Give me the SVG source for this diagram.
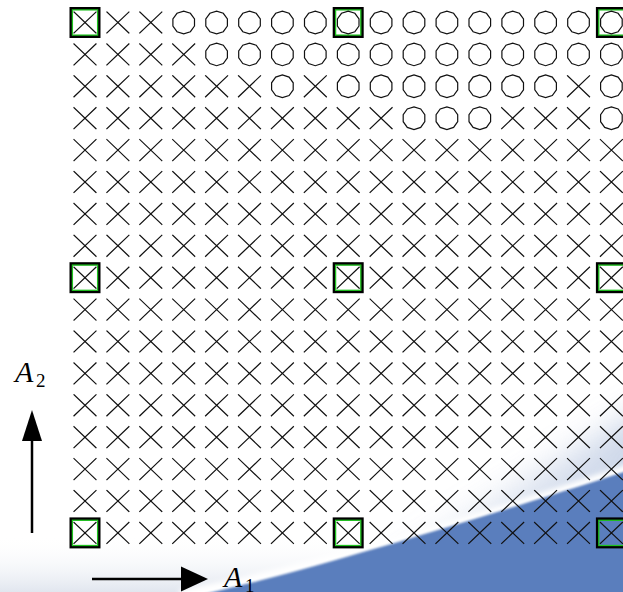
<svg xmlns="http://www.w3.org/2000/svg" xmlns:xlink="http://www.w3.org/1999/xlink" width="623" height="592" viewBox="0 0 623 592">
<style>
.xm{fill:none;stroke:#111;stroke-width:1.2;stroke-linecap:square}
.om{fill:none;stroke:#111;stroke-width:1.2}
.sqo{fill:none;stroke:#000;stroke-width:3}
.sqi{fill:none;stroke:#1fc21f;stroke-width:1.3}
.lbl{font-family:"Liberation Serif","Times New Roman",serif;font-style:italic;fill:#000}
.sub{font-family:"Liberation Serif","Times New Roman",serif;fill:#000}
.ax{stroke:#000;stroke-width:2.5;fill:none}
</style>
<defs>
<path id="X" class="xm" d="M-11-10.5L11 10.5M-11 10.5L11-10.5"/>
<polygon id="O" class="om" points="10.8,3.5 6.7,9.2 0,11.3 -6.7,9.2 -10.8,3.5 -10.8,-3.5 -6.7,-9.2 0,-11.3 6.7,-9.2 10.8,-3.5"/>
<g id="S"><rect class="sqo" x="-14" y="-14" width="28" height="28"/><rect class="sqi" x="-12.6" y="-12.6" width="25.2" height="25.2"/></g>
<linearGradient id="gb" x1="0" y1="0" x2="0" y2="1"><stop offset="0" stop-color="#fff" stop-opacity="0"/><stop offset="1" stop-color="#e1e6ef"/></linearGradient>
<linearGradient id="gh" x1="0" y1="1" x2="0.3" y2="0"><stop offset="0" stop-color="#b4c3de" stop-opacity="0.2"/><stop offset="1" stop-color="#b4c3de"/></linearGradient>
<filter id="b18" x="-50%" y="-50%" width="200%" height="200%"><feGaussianBlur stdDeviation="16"/></filter>
<filter id="b4" x="-20%" y="-20%" width="140%" height="140%"><feGaussianBlur stdDeviation="2.5"/></filter>
<filter id="b1" x="-10%" y="-10%" width="120%" height="120%"><feGaussianBlur stdDeviation="1.2"/></filter>
</defs>
<rect width="623" height="592" fill="#fff"/>
<g id="background">
<rect x="0" y="535" width="623" height="57" fill="url(#gb)"/>
<path d="M330 600 L660 400 L660 600 Z" fill="url(#gh)" opacity="0.7" filter="url(#b18)"/>
<path d="M180 596 C280 578 420 540 630 470" stroke="#fff" stroke-width="12" fill="none" filter="url(#b4)"/>
<path d="M205 594 C285 576 425 536 630 470 L630 600 L205 600 Z" fill="#5a7ebd" filter="url(#b1)"/>
</g>
<g id="nodes">
<g id="n0_0"><use href="#S" x="85" y="22.5"/><use href="#X" x="85" y="22.5"/></g>
<g id="n0_1"><use href="#X" x="117.9" y="22.5"/></g>
<g id="n0_2"><use href="#X" x="150.8" y="22.5"/></g>
<g id="n0_3"><use href="#O" x="183.7" y="22.5"/></g>
<g id="n0_4"><use href="#O" x="216.6" y="22.5"/></g>
<g id="n0_5"><use href="#O" x="249.5" y="22.5"/></g>
<g id="n0_6"><use href="#O" x="282.4" y="22.5"/></g>
<g id="n0_7"><use href="#O" x="315.3" y="22.5"/></g>
<g id="n0_8"><use href="#S" x="348.2" y="22.5"/><use href="#O" x="348.2" y="22.5"/></g>
<g id="n0_9"><use href="#O" x="381.1" y="22.5"/></g>
<g id="n0_10"><use href="#O" x="414" y="22.5"/></g>
<g id="n0_11"><use href="#O" x="446.9" y="22.5"/></g>
<g id="n0_12"><use href="#O" x="479.8" y="22.5"/></g>
<g id="n0_13"><use href="#O" x="512.7" y="22.5"/></g>
<g id="n0_14"><use href="#O" x="545.6" y="22.5"/></g>
<g id="n0_15"><use href="#O" x="578.5" y="22.5"/></g>
<g id="n0_16"><use href="#S" x="611.4" y="22.5"/><use href="#O" x="611.4" y="22.5"/></g>

<g id="n1_0"><use href="#X" x="85" y="54.4"/></g>
<g id="n1_1"><use href="#X" x="117.9" y="54.4"/></g>
<g id="n1_2"><use href="#X" x="150.8" y="54.4"/></g>
<g id="n1_3"><use href="#X" x="183.7" y="54.4"/></g>
<g id="n1_4"><use href="#O" x="216.6" y="54.4"/></g>
<g id="n1_5"><use href="#O" x="249.5" y="54.4"/></g>
<g id="n1_6"><use href="#O" x="282.4" y="54.4"/></g>
<g id="n1_7"><use href="#O" x="315.3" y="54.4"/></g>
<g id="n1_8"><use href="#O" x="348.2" y="54.4"/></g>
<g id="n1_9"><use href="#O" x="381.1" y="54.4"/></g>
<g id="n1_10"><use href="#O" x="414" y="54.4"/></g>
<g id="n1_11"><use href="#O" x="446.9" y="54.4"/></g>
<g id="n1_12"><use href="#O" x="479.8" y="54.4"/></g>
<g id="n1_13"><use href="#O" x="512.7" y="54.4"/></g>
<g id="n1_14"><use href="#O" x="545.6" y="54.4"/></g>
<g id="n1_15"><use href="#O" x="578.5" y="54.4"/></g>
<g id="n1_16"><use href="#O" x="611.4" y="54.4"/></g>

<g id="n2_0"><use href="#X" x="85" y="86.3"/></g>
<g id="n2_1"><use href="#X" x="117.9" y="86.3"/></g>
<g id="n2_2"><use href="#X" x="150.8" y="86.3"/></g>
<g id="n2_3"><use href="#X" x="183.7" y="86.3"/></g>
<g id="n2_4"><use href="#X" x="216.6" y="86.3"/></g>
<g id="n2_5"><use href="#X" x="249.5" y="86.3"/></g>
<g id="n2_6"><use href="#O" x="282.4" y="86.3"/></g>
<g id="n2_7"><use href="#X" x="315.3" y="86.3"/></g>
<g id="n2_8"><use href="#O" x="348.2" y="86.3"/></g>
<g id="n2_9"><use href="#O" x="381.1" y="86.3"/></g>
<g id="n2_10"><use href="#O" x="414" y="86.3"/></g>
<g id="n2_11"><use href="#O" x="446.9" y="86.3"/></g>
<g id="n2_12"><use href="#O" x="479.8" y="86.3"/></g>
<g id="n2_13"><use href="#O" x="512.7" y="86.3"/></g>
<g id="n2_14"><use href="#O" x="545.6" y="86.3"/></g>
<g id="n2_15"><use href="#X" x="578.5" y="86.3"/></g>
<g id="n2_16"><use href="#O" x="611.4" y="86.3"/></g>

<g id="n3_0"><use href="#X" x="85" y="118.2"/></g>
<g id="n3_1"><use href="#X" x="117.9" y="118.2"/></g>
<g id="n3_2"><use href="#X" x="150.8" y="118.2"/></g>
<g id="n3_3"><use href="#X" x="183.7" y="118.2"/></g>
<g id="n3_4"><use href="#X" x="216.6" y="118.2"/></g>
<g id="n3_5"><use href="#X" x="249.5" y="118.2"/></g>
<g id="n3_6"><use href="#X" x="282.4" y="118.2"/></g>
<g id="n3_7"><use href="#X" x="315.3" y="118.2"/></g>
<g id="n3_8"><use href="#X" x="348.2" y="118.2"/></g>
<g id="n3_9"><use href="#X" x="381.1" y="118.2"/></g>
<g id="n3_10"><use href="#O" x="414" y="118.2"/></g>
<g id="n3_11"><use href="#O" x="446.9" y="118.2"/></g>
<g id="n3_12"><use href="#O" x="479.8" y="118.2"/></g>
<g id="n3_13"><use href="#X" x="512.7" y="118.2"/></g>
<g id="n3_14"><use href="#X" x="545.6" y="118.2"/></g>
<g id="n3_15"><use href="#X" x="578.5" y="118.2"/></g>
<g id="n3_16"><use href="#O" x="611.4" y="118.2"/></g>

<g id="n4"><use href="#X" x="85" y="150.1"/><use href="#X" x="117.9" y="150.1"/><use href="#X" x="150.8" y="150.1"/><use href="#X" x="183.7" y="150.1"/><use href="#X" x="216.6" y="150.1"/><use href="#X" x="249.5" y="150.1"/><use href="#X" x="282.4" y="150.1"/><use href="#X" x="315.3" y="150.1"/><use href="#X" x="348.2" y="150.1"/><use href="#X" x="381.1" y="150.1"/><use href="#X" x="414" y="150.1"/><use href="#X" x="446.9" y="150.1"/><use href="#X" x="479.8" y="150.1"/><use href="#X" x="512.7" y="150.1"/><use href="#X" x="545.6" y="150.1"/><use href="#X" x="578.5" y="150.1"/><use href="#X" x="611.4" y="150.1"/></g>
<g id="n5"><use href="#X" x="85" y="182"/><use href="#X" x="117.9" y="182"/><use href="#X" x="150.8" y="182"/><use href="#X" x="183.7" y="182"/><use href="#X" x="216.6" y="182"/><use href="#X" x="249.5" y="182"/><use href="#X" x="282.4" y="182"/><use href="#X" x="315.3" y="182"/><use href="#X" x="348.2" y="182"/><use href="#X" x="381.1" y="182"/><use href="#X" x="414" y="182"/><use href="#X" x="446.9" y="182"/><use href="#X" x="479.8" y="182"/><use href="#X" x="512.7" y="182"/><use href="#X" x="545.6" y="182"/><use href="#X" x="578.5" y="182"/><use href="#X" x="611.4" y="182"/></g>
<g id="n6"><use href="#X" x="85" y="213.9"/><use href="#X" x="117.9" y="213.9"/><use href="#X" x="150.8" y="213.9"/><use href="#X" x="183.7" y="213.9"/><use href="#X" x="216.6" y="213.9"/><use href="#X" x="249.5" y="213.9"/><use href="#X" x="282.4" y="213.9"/><use href="#X" x="315.3" y="213.9"/><use href="#X" x="348.2" y="213.9"/><use href="#X" x="381.1" y="213.9"/><use href="#X" x="414" y="213.9"/><use href="#X" x="446.9" y="213.9"/><use href="#X" x="479.8" y="213.9"/><use href="#X" x="512.7" y="213.9"/><use href="#X" x="545.6" y="213.9"/><use href="#X" x="578.5" y="213.9"/><use href="#X" x="611.4" y="213.9"/></g>
<g id="n7"><use href="#X" x="85" y="245.8"/><use href="#X" x="117.9" y="245.8"/><use href="#X" x="150.8" y="245.8"/><use href="#X" x="183.7" y="245.8"/><use href="#X" x="216.6" y="245.8"/><use href="#X" x="249.5" y="245.8"/><use href="#X" x="282.4" y="245.8"/><use href="#X" x="315.3" y="245.8"/><use href="#X" x="348.2" y="245.8"/><use href="#X" x="381.1" y="245.8"/><use href="#X" x="414" y="245.8"/><use href="#X" x="446.9" y="245.8"/><use href="#X" x="479.8" y="245.8"/><use href="#X" x="512.7" y="245.8"/><use href="#X" x="545.6" y="245.8"/><use href="#X" x="578.5" y="245.8"/><use href="#X" x="611.4" y="245.8"/></g>
<g id="n8"><use href="#S" x="85" y="277.7"/><use href="#S" x="348.2" y="277.7"/><use href="#S" x="611.4" y="277.7"/><use href="#X" x="85" y="277.7"/><use href="#X" x="117.9" y="277.7"/><use href="#X" x="150.8" y="277.7"/><use href="#X" x="183.7" y="277.7"/><use href="#X" x="216.6" y="277.7"/><use href="#X" x="249.5" y="277.7"/><use href="#X" x="282.4" y="277.7"/><use href="#X" x="315.3" y="277.7"/><use href="#X" x="348.2" y="277.7"/><use href="#X" x="381.1" y="277.7"/><use href="#X" x="414" y="277.7"/><use href="#X" x="446.9" y="277.7"/><use href="#X" x="479.8" y="277.7"/><use href="#X" x="512.7" y="277.7"/><use href="#X" x="545.6" y="277.7"/><use href="#X" x="578.5" y="277.7"/><use href="#X" x="611.4" y="277.7"/></g>
<g id="n9"><use href="#X" x="85" y="309.6"/><use href="#X" x="117.9" y="309.6"/><use href="#X" x="150.8" y="309.6"/><use href="#X" x="183.7" y="309.6"/><use href="#X" x="216.6" y="309.6"/><use href="#X" x="249.5" y="309.6"/><use href="#X" x="282.4" y="309.6"/><use href="#X" x="315.3" y="309.6"/><use href="#X" x="348.2" y="309.6"/><use href="#X" x="381.1" y="309.6"/><use href="#X" x="414" y="309.6"/><use href="#X" x="446.9" y="309.6"/><use href="#X" x="479.8" y="309.6"/><use href="#X" x="512.7" y="309.6"/><use href="#X" x="545.6" y="309.6"/><use href="#X" x="578.5" y="309.6"/><use href="#X" x="611.4" y="309.6"/></g>
<g id="n10"><use href="#X" x="85" y="341.5"/><use href="#X" x="117.9" y="341.5"/><use href="#X" x="150.8" y="341.5"/><use href="#X" x="183.7" y="341.5"/><use href="#X" x="216.6" y="341.5"/><use href="#X" x="249.5" y="341.5"/><use href="#X" x="282.4" y="341.5"/><use href="#X" x="315.3" y="341.5"/><use href="#X" x="348.2" y="341.5"/><use href="#X" x="381.1" y="341.5"/><use href="#X" x="414" y="341.5"/><use href="#X" x="446.9" y="341.5"/><use href="#X" x="479.8" y="341.5"/><use href="#X" x="512.7" y="341.5"/><use href="#X" x="545.6" y="341.5"/><use href="#X" x="578.5" y="341.5"/><use href="#X" x="611.4" y="341.5"/></g>
<g id="n11"><use href="#X" x="85" y="373.4"/><use href="#X" x="117.9" y="373.4"/><use href="#X" x="150.8" y="373.4"/><use href="#X" x="183.7" y="373.4"/><use href="#X" x="216.6" y="373.4"/><use href="#X" x="249.5" y="373.4"/><use href="#X" x="282.4" y="373.4"/><use href="#X" x="315.3" y="373.4"/><use href="#X" x="348.2" y="373.4"/><use href="#X" x="381.1" y="373.4"/><use href="#X" x="414" y="373.4"/><use href="#X" x="446.9" y="373.4"/><use href="#X" x="479.8" y="373.4"/><use href="#X" x="512.7" y="373.4"/><use href="#X" x="545.6" y="373.4"/><use href="#X" x="578.5" y="373.4"/><use href="#X" x="611.4" y="373.4"/></g>
<g id="n12"><use href="#X" x="85" y="405.3"/><use href="#X" x="117.9" y="405.3"/><use href="#X" x="150.8" y="405.3"/><use href="#X" x="183.7" y="405.3"/><use href="#X" x="216.6" y="405.3"/><use href="#X" x="249.5" y="405.3"/><use href="#X" x="282.4" y="405.3"/><use href="#X" x="315.3" y="405.3"/><use href="#X" x="348.2" y="405.3"/><use href="#X" x="381.1" y="405.3"/><use href="#X" x="414" y="405.3"/><use href="#X" x="446.9" y="405.3"/><use href="#X" x="479.8" y="405.3"/><use href="#X" x="512.7" y="405.3"/><use href="#X" x="545.6" y="405.3"/><use href="#X" x="578.5" y="405.3"/><use href="#X" x="611.4" y="405.3"/></g>
<g id="n13"><use href="#X" x="85" y="437.2"/><use href="#X" x="117.9" y="437.2"/><use href="#X" x="150.8" y="437.2"/><use href="#X" x="183.7" y="437.2"/><use href="#X" x="216.6" y="437.2"/><use href="#X" x="249.5" y="437.2"/><use href="#X" x="282.4" y="437.2"/><use href="#X" x="315.3" y="437.2"/><use href="#X" x="348.2" y="437.2"/><use href="#X" x="381.1" y="437.2"/><use href="#X" x="414" y="437.2"/><use href="#X" x="446.9" y="437.2"/><use href="#X" x="479.8" y="437.2"/><use href="#X" x="512.7" y="437.2"/><use href="#X" x="545.6" y="437.2"/><use href="#X" x="578.5" y="437.2"/><use href="#X" x="611.4" y="437.2"/></g>
<g id="n14"><use href="#X" x="85" y="469.1"/><use href="#X" x="117.9" y="469.1"/><use href="#X" x="150.8" y="469.1"/><use href="#X" x="183.7" y="469.1"/><use href="#X" x="216.6" y="469.1"/><use href="#X" x="249.5" y="469.1"/><use href="#X" x="282.4" y="469.1"/><use href="#X" x="315.3" y="469.1"/><use href="#X" x="348.2" y="469.1"/><use href="#X" x="381.1" y="469.1"/><use href="#X" x="414" y="469.1"/><use href="#X" x="446.9" y="469.1"/><use href="#X" x="479.8" y="469.1"/><use href="#X" x="512.7" y="469.1"/><use href="#X" x="545.6" y="469.1"/><use href="#X" x="578.5" y="469.1"/><use href="#X" x="611.4" y="469.1"/></g>
<g id="n15"><use href="#X" x="85" y="501"/><use href="#X" x="117.9" y="501"/><use href="#X" x="150.8" y="501"/><use href="#X" x="183.7" y="501"/><use href="#X" x="216.6" y="501"/><use href="#X" x="249.5" y="501"/><use href="#X" x="282.4" y="501"/><use href="#X" x="315.3" y="501"/><use href="#X" x="348.2" y="501"/><use href="#X" x="381.1" y="501"/><use href="#X" x="414" y="501"/><use href="#X" x="446.9" y="501"/><use href="#X" x="479.8" y="501"/><use href="#X" x="512.7" y="501"/><use href="#X" x="545.6" y="501"/><use href="#X" x="578.5" y="501"/><use href="#X" x="611.4" y="501"/></g>
<g id="n16"><use href="#S" x="85" y="532.9"/><use href="#S" x="348.2" y="532.9"/><use href="#S" x="611.4" y="532.9"/><use href="#X" x="85" y="532.9"/><use href="#X" x="117.9" y="532.9"/><use href="#X" x="150.8" y="532.9"/><use href="#X" x="183.7" y="532.9"/><use href="#X" x="216.6" y="532.9"/><use href="#X" x="249.5" y="532.9"/><use href="#X" x="282.4" y="532.9"/><use href="#X" x="315.3" y="532.9"/><use href="#X" x="348.2" y="532.9"/><use href="#X" x="381.1" y="532.9"/><use href="#X" x="414" y="532.9"/><use href="#X" x="446.9" y="532.9"/><use href="#X" x="479.8" y="532.9"/><use href="#X" x="512.7" y="532.9"/><use href="#X" x="545.6" y="532.9"/><use href="#X" x="578.5" y="532.9"/><use href="#X" x="611.4" y="532.9"/></g>
</g>
<g id="connectors">
<line class="ax" x1="32" y1="533" x2="32" y2="436"/>
<polygon points="32,410 22,441 42,441" fill="#000"/>
<line class="ax" x1="92" y1="579" x2="184" y2="579"/>
<polygon points="208,579 181,566.5 181,591.5" fill="#000"/>
</g>
<g id="labels">
<text class="lbl" x="15" y="382" font-size="30">A</text><text class="sub" x="36" y="387" font-size="19">2</text>
<text class="lbl" x="224" y="587" font-size="30">A</text><text class="sub" x="245" y="592" font-size="19">1</text>
</g>
</svg>
